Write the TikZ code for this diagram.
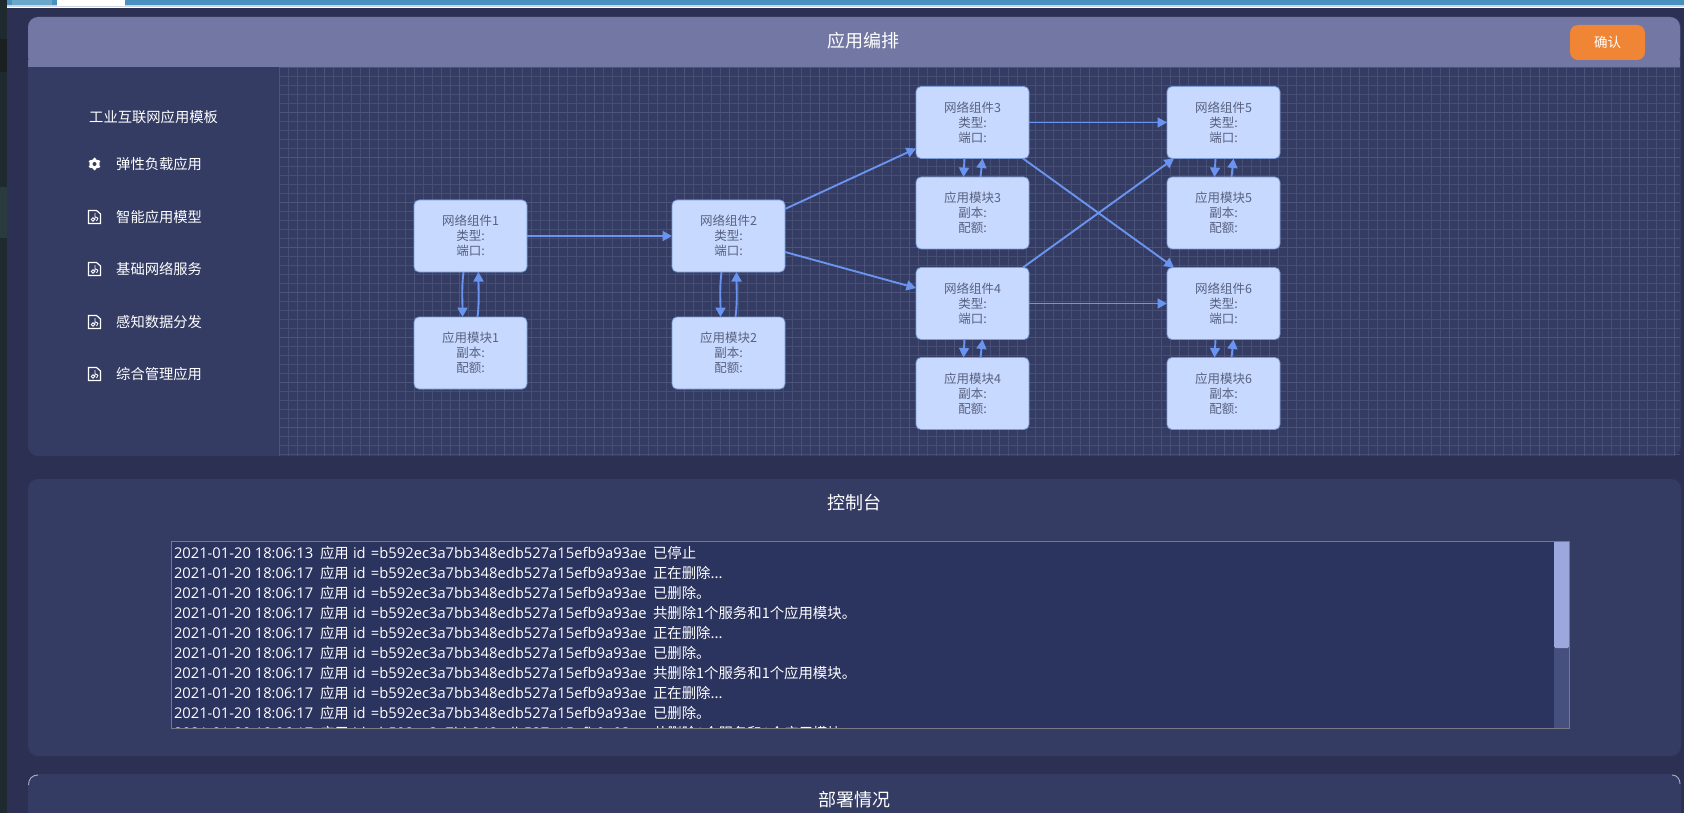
\documentclass[tikz,border=0pt]{standalone}
\usepackage{fontspec}
\setmainfont{Noto Sans CJK SC}
\newfontfamily\cjk{Noto Sans CJK SC}
\newfontfamily\lat{Open Sans}
\usetikzlibrary{arrows.meta,calc}
\definecolor{pagebg}{HTML}{2C3153}
\definecolor{panelbg}{HTML}{343C63}
\definecolor{headbg}{HTML}{7278A3}
\definecolor{gridmin}{HTML}{464E74}
\definecolor{gridmaj}{HTML}{4C5479}
\definecolor{boxfill}{HTML}{C7D9FF}
\definecolor{boxline}{HTML}{7A9BD6}
\definecolor{boxtext}{HTML}{59617F}
\definecolor{arrowc}{HTML}{6B93F0}
\definecolor{consolebg}{HTML}{2B335F}
\definecolor{thumb}{HTML}{9CA7DD}
\definecolor{track}{HTML}{45507F}
\definecolor{btn}{HTML}{F08535}
\definecolor{stripc}{HTML}{1F2A2E}
\definecolor{stripa}{HTML}{2A3B40}
\definecolor{stripb}{HTML}{19201F}
\definecolor{topblue}{HTML}{4A90BE}
\definecolor{tabblue}{HTML}{6BA7C9}
\definecolor{chrome}{HTML}{CFD6E2}
\definecolor{consoleline}{HTML}{777A80}
\definecolor{arcline}{HTML}{A9ADC4}
\tikzset{
  x=1pt,y=-1pt,
  comp/.style={draw=boxline,line width=0.8pt,fill=boxfill,rounded corners=5pt,minimum width=113pt,minimum height=72pt,inner sep=0pt,outer sep=0pt,align=center,text=boxtext,font=\fontsize{12.5}{15}\selectfont},
  flow/.style={draw=arrowc,line width=1.9pt,-{Triangle[length=9.5pt,width=10pt]}},
  sidetext/.style={text=white,anchor=west,inner sep=0pt,font=\fontsize{14.3}{16}\selectfont},
  logline/.style={text=white,anchor=west,inner sep=0pt,outer sep=0pt},
  title/.style={text=white,inner sep=0pt,font=\fontsize{18}{20}\selectfont},
  docicon/.style={draw=white,line width=1.2pt,fill=none},
}
\newcommand{\logl}[2]{\hbox to 146pt{\lat\fontsize{14.75}{16}\selectfont 2021-01-20 18:06:#1\hss}\hbox to 33pt{\cjk\fontsize{14.4}{16}\selectfont 应用\hss}\hbox to 18pt{\lat\fontsize{14.75}{16}\selectfont id\hss}\hbox to 282pt{\lat\fontsize{14.75}{16}\selectfont =b592ec3a7bb348edb527a15efb9a93ae\hss}{\cjk\fontsize{14.4}{16}\selectfont #2}}
\newcommand{\docic}[2]{%
  \draw[docicon] (#1,#2-6.5) -- (#1+8,#2-6.5) -- (#1+12,#2-3) -- (#1+12,#2+6.5) -- (#1,#2+6.5) -- cycle;
  \draw[white,line width=0.9pt] (#1+4.5,#2+2.5) circle (1.7pt) (#1+6.5,#2+3) -- (#1+6.5,#2-4) (#1+6.5,#2+0) .. controls (#1+10,#2+0) and (#1+10,#2+3) .. (#1+8,#2+4);
}
\begin{document}
\begin{tikzpicture}
\useasboundingbox (0,0) rectangle (1684,813);
\fill[pagebg] (0,0) rectangle (1684,813);
% window chrome
\fill[stripc] (0,0) rectangle (7,813);
\fill[stripa] (0,187) rectangle (7,238);
\fill[stripb] (0,39) rectangle (7,72);
\fill[white] (7,5) rectangle (1684,8);
\fill[chrome] (7,5) rectangle (1684,7);
\fill[topblue] (7,0) rectangle (1684,5);
\fill[tabblue] (12,0) rectangle (52,5);
\fill[white] (57,0) rectangle (125,6);
% panel 1
\fill[panelbg,rounded corners=10pt] (28,17) rectangle (1681,456);
\fill[headbg,rounded corners=10pt] (28,67) -- (28,17) -- (1680,17) -- (1680,67) -- cycle;
\fill[headbg] (28,60) rectangle (1680,67);
\begin{scope}
  \clip (279,67) rectangle (1680,456);
  \foreach \i in {0,...,155} {\draw[gridmin,line width=0.6pt] (279+9*\i,67) -- (279+9*\i,456);}
  \foreach \i in {0,...,43} {\draw[gridmin,line width=0.6pt] (279,67+9*\i) -- (1680,67+9*\i);}
  \foreach \i in {0,...,31} {\draw[gridmaj,line width=0.7pt] (279+45*\i,67) -- (279+45*\i,456);}
  \foreach \i in {0,...,8} {\draw[gridmaj,line width=0.7pt] (279,67+45*\i) -- (1680,67+45*\i);}
\end{scope}
\node[title] (t1) at (863,41) {应用编排};
\node[fill=btn,rounded corners=8pt,minimum width=75pt,minimum height=35pt,inner sep=0pt,text=white,font=\fontsize{13.5}{15}\selectfont] (ok) at (1607.5,42.5) {确认};
% sidebar
\node[sidetext] (s0) at (89,117) {工业互联网应用模板};
\node[sidetext] (s1) at (116,164) {弹性负载应用};
\node[sidetext] (s2) at (116,217) {智能应用模型};
\node[sidetext] (s3) at (116,269) {基础网络服务};
\node[sidetext] (s4) at (116,322) {感知数据分发};
\node[sidetext] (s5) at (116,374) {综合管理应用};
\fill[white] (94.5,164) circle (5.2pt);
\foreach \a in {30,90,...,330} {\fill[white] ($(94.5,164)+(\a:4.8pt)$) circle (1.7pt);}
\fill[panelbg] (94.5,164) circle (2pt);
\docic{88.5}{217}
\docic{88.5}{269}
\docic{88.5}{322}
\docic{88.5}{374}
% components
\node[comp] (g1) at (470.5,236) {网络组件1\\类型:\\端口:};
\node[comp] (m1) at (470.5,353) {应用模块1\\副本:\\配额:};
\node[comp] (g2) at (728.5,236) {网络组件2\\类型:\\端口:};
\node[comp] (m2) at (728.5,353) {应用模块2\\副本:\\配额:};
\node[comp] (g3) at (972.5,122.5) {网络组件3\\类型:\\端口:};
\node[comp] (m3) at (972.5,213) {应用模块3\\副本:\\配额:};
\node[comp] (g4) at (972.5,303.5) {网络组件4\\类型:\\端口:};
\node[comp] (m4) at (972.5,393.5) {应用模块4\\副本:\\配额:};
\node[comp] (g5) at (1223.5,122.5) {网络组件5\\类型:\\端口:};
\node[comp] (m5) at (1223.5,213) {应用模块5\\副本:\\配额:};
\node[comp] (g6) at (1223.5,303.5) {网络组件6\\类型:\\端口:};
\node[comp] (m6) at (1223.5,393.5) {应用模块6\\副本:\\配额:};
% straight flows
\draw[flow] (g1.east) -- (g2.west);
\draw[flow] ($(g2.east)+(0,-27)$) -- ($(g3.west)+(0,26)$);
\draw[flow] ($(g2.east)+(0,16)$) -- ($(g4.west)+(0,-15.5)$);
\draw[flow] (g3.east) -- (g5.west);
\draw[flow] (g4.east) -- (g6.west);
\draw[flow] ($(g3.south east)+(-6,0)$) -- ($(g6.north west)+(7,0)$);
\draw[flow] ($(g4.north east)+(-6,0)$) -- ($(g5.south west)+(7,0)$);
% up and down flows
\foreach \n in {1,2} {
  \draw[flow] ($(g\n.south)+(-7,0)$) .. controls +(-2,15) and +(0,-15) .. ($(m\n.north)+(-8,0)$);
  \draw[flow] ($(m\n.north)+(7,0)$) .. controls +(2,-15) and +(0,15) .. ($(g\n.south)+(8,0)$);
}
\foreach \n in {3,4,5,6} {
  \draw[flow] ($(g\n.south)+(-8,0)$) -- ($(m\n.north)+(-9,0)$);
  \draw[flow] ($(m\n.north)+(8,0)$) -- ($(g\n.south)+(10,0)$);
}
% panel 2
\fill[panelbg,rounded corners=10pt] (28,479) rectangle (1681,756);
\node[title] (t2) at (854,503) {控制台};
\fill[consolebg] (171,541) rectangle (1569,728);
\fill[track] (1554,541) rectangle (1569,728);
\fill[thumb,rounded corners=1.5pt] (1554,541) rectangle (1569,648);
\begin{scope}
  \clip (171,541) rectangle (1554,728);
  \node[logline] (l1) at (174,553) {\logl{13}{已停止}};
  \node[logline] (l2) at (174,573) {\logl{17}{正在删除...}};
  \node[logline] (l3) at (174,593) {\logl{17}{已删除。}};
  \node[logline] (l4) at (174,613) {\logl{17}{共删除1个服务和1个应用模块。}};
  \node[logline] (l5) at (174,633) {\logl{17}{正在删除...}};
  \node[logline] (l6) at (174,653) {\logl{17}{已删除。}};
  \node[logline] (l7) at (174,673) {\logl{17}{共删除1个服务和1个应用模块。}};
  \node[logline] (l8) at (174,693) {\logl{17}{正在删除...}};
  \node[logline] (l9) at (174,713) {\logl{17}{已删除。}};
  \node[logline] (l10) at (174,733) {\logl{17}{共删除1个服务和1个应用模块。}};
\end{scope}
\draw[consoleline,line width=0.9pt] (171,541) rectangle (1569,728);
% panel 3
\fill[panelbg,rounded corners=10pt] (28,774) rectangle (1681,830);
\draw[arcline,line width=0.9pt] (28.5,785) .. controls (28.5,779) and (32,775) .. (38,775);
\draw[arcline,line width=0.9pt] (1672,775) .. controls (1677,775) and (1680,779) .. (1680,784);
\node[title] (t3) at (854,800) {部署情况};
\end{tikzpicture}
\end{document}
